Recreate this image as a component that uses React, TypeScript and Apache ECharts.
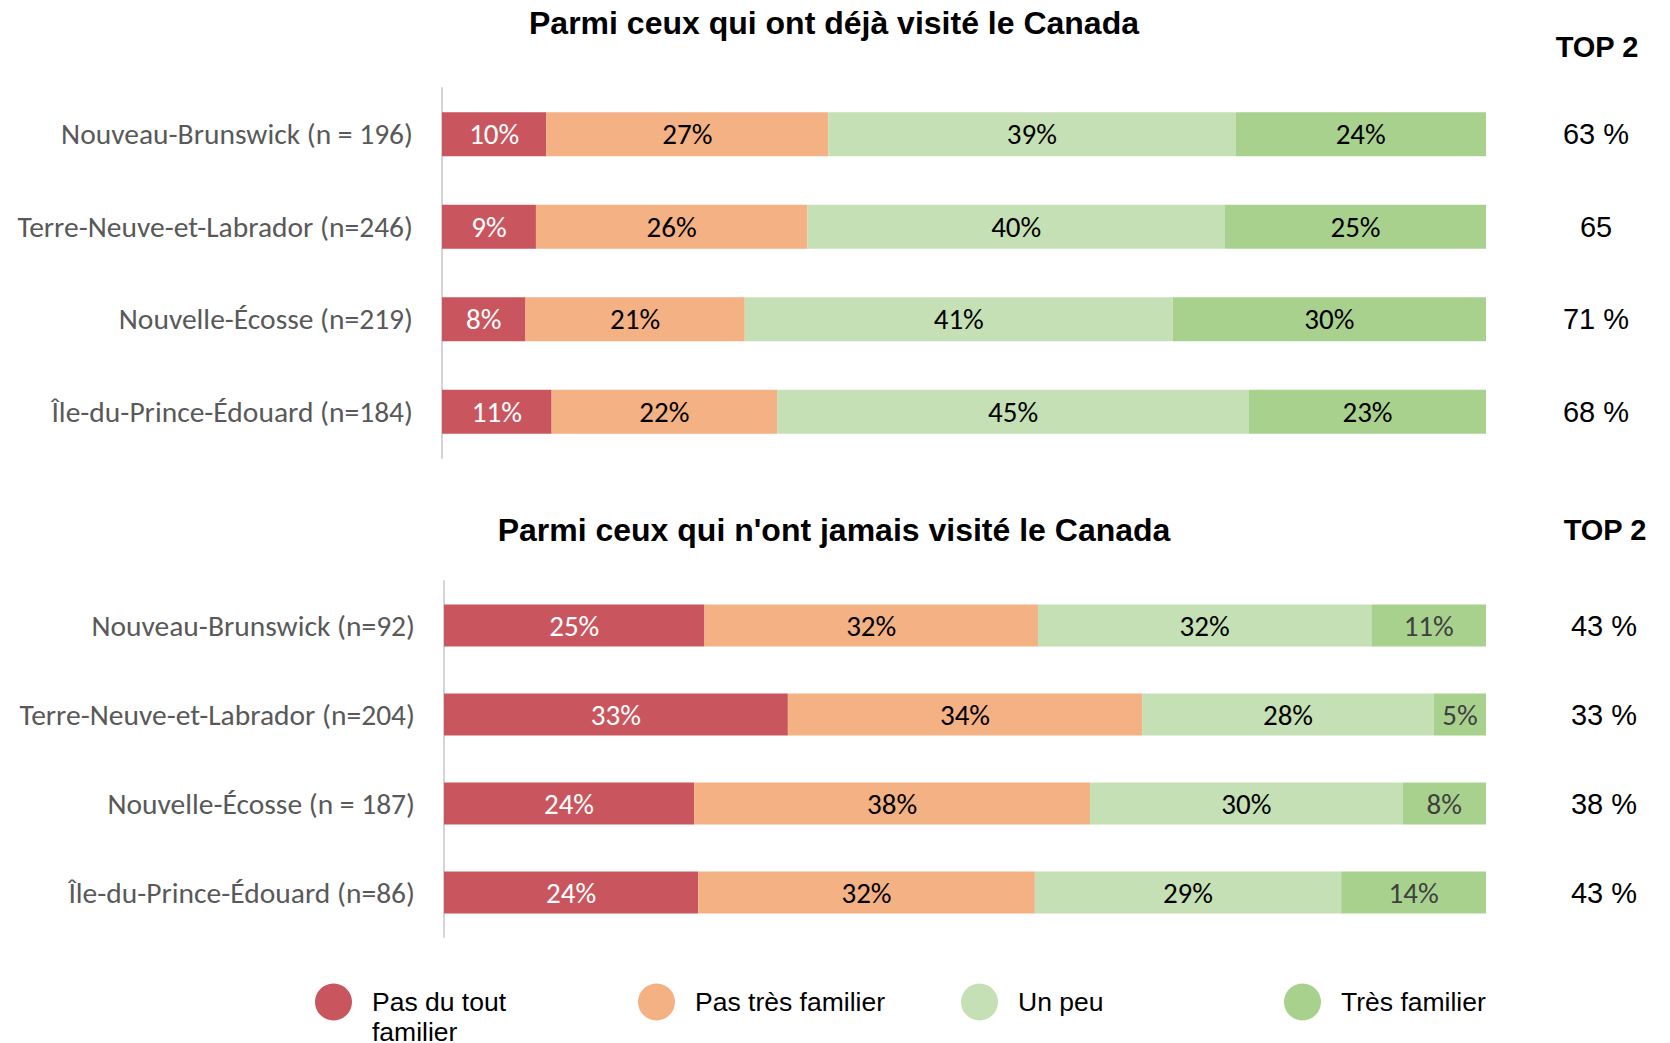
import React, { useEffect, useRef } from "react";
import * as echarts from "echarts";

const levelNames = ["Pas du tout familier", "Pas très familier", "Un peu", "Très familier"];
const levelColors = ["#C9565E", "#F4B183", "#C5E0B4", "#A9D18E"];

const visitedCategories = [
  "Nouveau-Brunswick (n = 196)",
  "Terre-Neuve-et-Labrador (n=246)",
  "Nouvelle-Écosse (n=219)",
  "Île-du-Prince-Édouard (n=184)",
];
const visitedPasDuTout = [10, 9, 8, 10.5];
const visitedPasTres = [27, 26, 21, 21.6];
const visitedUnPeu = [39, 40, 41, 45.2];
const visitedTres = [24, 25, 30, 22.7];
const visitedTop2 = ["63 %", "65", "71 %", "68 %"];

const neverCategories = [
  "Nouveau-Brunswick (n=92)",
  "Terre-Neuve-et-Labrador (n=204)",
  "Nouvelle-Écosse (n = 187)",
  "Île-du-Prince-Édouard (n=86)",
];
const neverPasDuTout = [25, 33, 24, 24.4];
const neverPasTres = [32, 34, 38, 32.3];
const neverUnPeu = [32, 28, 30, 29.4];
const neverTres = [11, 5, 8, 13.9];
const neverTop2 = ["43 %", "33 %", "38 %", "43 %"];

const titleVisited = "Parmi ceux qui ont déjà visité le Canada";
const titleNever = "Parmi ceux qui n'ont jamais visité le Canada";
const top2Header = "TOP 2";

const labelFont = "Carlito, Lato, sans-serif";
const arialFont = "'Liberation Sans', Arial, sans-serif";

export default function App() {
  const ref = useRef<HTMLDivElement>(null);
  useEffect(() => {
    if (!ref.current) return;
    const chart = echarts.init(ref.current, null, { renderer: "svg" });

    const visitedData = [visitedPasDuTout, visitedPasTres, visitedUnPeu, visitedTres];
    const neverData = [neverPasDuTout, neverPasTres, neverUnPeu, neverTres];
    const labelColorsVisited = ["#FFFFFF", "#000000", "#000000", "#000000"];
    const labelColorsNever = ["#FFFFFF", "#000000", "#000000", "#404040"];

    const makeSeries = (data: number[][], gridIdx: number, barWidth: number, colors: string[]) =>
      data.map((vals, i) => ({
        name: levelNames[i],
        type: "bar",
        stack: "s" + gridIdx,
        xAxisIndex: gridIdx,
        yAxisIndex: gridIdx * 2,
        barWidth,
        data: vals,
        itemStyle: { color: levelColors[i] },
        label: {
          show: true,
          position: "inside",
          formatter: (p: any) => Math.round(p.value) + "%",
          color: colors[i],
          fontFamily: labelFont,
          fontSize: 29,
        },
        emphasis: { disabled: true },
      }));

    const catAxis = (cats: string[], gridIdx: number) => ({
      type: "category",
      gridIndex: gridIdx,
      data: cats,
      inverse: true,
      axisLine: { show: true, lineStyle: { color: "#D4D4D4", width: 2 } },
      axisTick: { show: false },
      axisLabel: { color: "#595959", fontFamily: labelFont, fontSize: 29.5, margin: 29 },
    });
    const topAxis = (vals: string[], gridIdx: number, margin: number) => ({
      type: "category",
      gridIndex: gridIdx,
      position: "right",
      data: vals,
      inverse: true,
      axisLine: { show: false },
      axisTick: { show: false },
      axisLabel: { color: "#000000", fontFamily: arialFont, fontSize: 29, margin, align: "center" },
    });

    chart.setOption({
      animation: false,
      backgroundColor: "#FFFFFF",
      grid: [
        { left: 442, top: 88, width: 1044, height: 370 },
        { left: 444, top: 581, width: 1042, height: 356 },
      ],
      xAxis: [
        { type: "value", gridIndex: 0, min: 0, max: 100, show: false },
        { type: "value", gridIndex: 1, min: 0, max: 100, show: false },
      ],
      yAxis: [
        catAxis(visitedCategories, 0),
        topAxis(visitedTop2, 0, 110),
        catAxis(neverCategories, 1),
        topAxis(neverTop2, 1, 118),
      ],
      legend: {
        left: 310,
        top: 952,
        icon: "circle",
        itemWidth: 37,
        itemHeight: 37,
        itemGap: 36,
        selectedMode: false,
        textStyle: {
          fontFamily: arialFont,
          fontSize: 26.5,
          color: "#000000",
          width: 230,
          lineHeight: 30,
          padding: [0, 0, 0, 15],
        },
        formatter: (name: string) => (name === levelNames[0] ? " \nPas du tout\nfamilier" : name),
        data: levelNames,
      },
      graphic: [
        {
          type: "text",
          x: 834,
          y: 23,
          style: { text: titleVisited, font: `bold 32px ${arialFont}`, fill: "#000", align: "center", verticalAlign: "middle" },
        },
        {
          type: "text",
          x: 834,
          y: 530,
          style: { text: titleNever, font: `bold 32px ${arialFont}`, fill: "#000", align: "center", verticalAlign: "middle" },
        },
        {
          type: "text",
          x: 1597,
          y: 47,
          style: { text: top2Header, font: `bold 29px ${arialFont}`, fill: "#000", align: "center", verticalAlign: "middle" },
        },
        {
          type: "text",
          x: 1605,
          y: 530,
          style: { text: top2Header, font: `bold 29px ${arialFont}`, fill: "#000", align: "center", verticalAlign: "middle" },
        },
      ],
      series: [
        ...makeSeries(visitedData, 0, 44, labelColorsVisited),
        ...makeSeries(neverData, 1, 42, labelColorsNever),
      ],
    });
    return () => chart.dispose();
  }, []);
  return <div ref={ref} style={{ position: "absolute", left: 0, top: 0, width: 1670, height: 1043 }} />;
}
